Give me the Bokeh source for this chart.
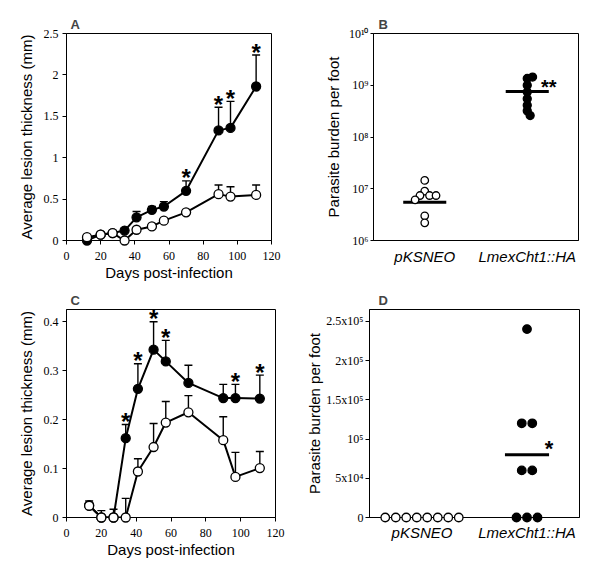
import math
from bokeh.plotting import figure
from bokeh.layouts import column, row
from bokeh.models import (ColumnDataSource, Whisker, TeeHead, FixedTicker,
                          CustomJSTickFormatter, Range1d)
from bokeh.core.properties import value
from bokeh.embed import file_html
from bokeh.resources import INLINE

NaN = float("nan")

# ---------------- data ----------------
# Panel A: lesion thickness, (mm)
days_A = [12, 20, 27, 34, 41, 50, 57, 70, 89, 96, 111]
cht_A = [0.00, 0.07, 0.09, 0.12, 0.28, 0.37, 0.41, 0.60, 1.33, 1.36, 1.86]
cht_A_top = [NaN, NaN, NaN, 0.15, 0.35, 0.41, 0.47, 0.72, 1.61, 1.68, 2.24]
neo_A = [0.04, 0.07, 0.09, 0.00, 0.13, 0.17, 0.24, 0.34, 0.56, 0.53, 0.55]
neo_A_top = [NaN, NaN, NaN, NaN, NaN, NaN, NaN, NaN, 0.67, 0.65, 0.67]
stars_A = [70, 89, 96, 111]

# Panel C
days_C = [13, 20, 27, 34, 41, 50, 57, 70, 90, 97, 111]
cht_C = [0.025, 0.0, 0.0, 0.162, 0.263, 0.343, 0.319, 0.275, 0.244, 0.244, 0.243]
cht_C_top = [NaN, NaN, NaN, 0.19, 0.314, 0.40, 0.362, 0.311, 0.272, 0.272, 0.291]
neo_C = [0.024, 0.0, 0.0, 0.0, 0.094, 0.144, 0.194, 0.215, 0.158, 0.083, 0.101]
neo_C_top = [0.034, 0.014, 0.017, 0.039, 0.12, 0.192, 0.237, 0.249, 0.206, 0.133, 0.135]
stars_C = [34, 41, 50, 57, 97, 111]

# Panel B: parasite burden (log)
groups = ["pKSNEO", "LmexCht1::HA"]
B_neo = [1.45e7, 9.0e6, 7.4e6, 7.4e6, 7.4e6, 6.1e6, 3.0e6, 2.2e6]
B_cht = [1.35e9, 1.44e9, 1.0e9, 7.4e8, 5.5e8, 4.1e8, 3.2e8, 2.6e8]
B_means = [5.5e6, 7.6e8]
B_sig = "**"

# Panel D: parasite burden (linear)
D_neo = [0, 0, 0, 0, 0, 0, 0, 0]
D_cht = [2.4e5, 1.2e5, 1.2e5, 6.0e4, 6.0e4, 0, 0, 0]
D_mean_cht = 8.0e4
D_sig = "*"

# tick labels
xt_days = [0, 20, 40, 60, 80, 100, 120]
xt_days_lab = ["0", "20", "40", "60", "80", "100", "120"]
yt_A = [0, 0.5, 1, 1.5, 2, 2.5]
yt_A_lab = ["0", "0.5", "1", "1.5", "2", "2.5"]
yt_C = [0, 0.1, 0.2, 0.3, 0.4]
yt_C_lab = ["0", "0.1", "0.2", "0.3", "0.4"]
yt_B = [1e6, 1e7, 1e8, 1e9, 1e10]
yt_B_lab = ["10\u2076", "10\u2077", "10\u2078", "10\u2079", "10\u00b9\u2070"]
yt_D = [0, 5e4, 1e5, 1.5e5, 2e5, 2.5e5]
yt_D_lab = ["0", "5x10\u2074", "10\u2075", "1.5x10\u2075", "2x10\u2075", "2.5x10\u2075"]

# ---------------- helpers ----------------
SANS = "Liberation Sans"
SERIF = "Liberation Serif"


def fmt(vals, labs):
    return CustomJSTickFormatter(args=dict(vals=list(vals), labs=list(labs)), code="""
        for (let i = 0; i < vals.length; i++) {
            if (Math.abs(vals[i] - tick) <= 1e-9 * Math.max(1, Math.abs(vals[i]))) return labs[i];
        }
        return "";
    """)


def make_fig(title, xr, yr, bl, br, bt, bb, ylog=False, title_off=4):
    p = figure(width=300, height=284, x_range=xr, y_range=yr,
               y_axis_type="log" if ylog else "linear",
               output_backend="svg", toolbar_location=None,
               min_border_left=bl, min_border_right=br,
               min_border_top=bt, min_border_bottom=bb)
    p.grid.visible = False
    p.outline_line_color = "black"
    p.outline_line_width = 1
    p.background_fill_color = "white"
    p.border_fill_color = "white"
    p.title.text = title
    p.title.text_font = SANS
    p.title.text_font_size = "13px"
    p.title.text_font_style = "bold"
    p.title.offset = title_off
    p.title.standoff = 3
    for ax in p.axis:
        ax.axis_line_color = "black"
        ax.major_tick_line_color = "black"
        ax.minor_tick_line_color = None
        ax.major_tick_in = 0
        ax.major_tick_out = 4
        ax.major_label_standoff = 4
        ax.major_label_text_font = SERIF
        ax.major_label_text_font_size = "12px"
        ax.major_label_text_color = "black"
        ax.axis_label_text_font = SANS
        ax.axis_label_text_font_size = "15px"
        ax.axis_label_text_font_style = "normal"
        ax.axis_label_text_color = "black"
        ax.axis_label_standoff = 6
    return p


def add_series(p, x, y, top, filled):
    src = ColumnDataSource(dict(x=x, y=y))
    ex = [a for a, t in zip(x, top) if not math.isnan(t)]
    ey = [b for b, t in zip(y, top) if not math.isnan(t)]
    et = [t for t in top if not math.isnan(t)]
    wsrc = ColumnDataSource(dict(base=ex, lower=ey, upper=et))
    p.add_layout(Whisker(base="base", lower="lower", upper="upper", source=wsrc,
                         dimension="height", line_color="black", line_width=1.4,
                         lower_head=None,
                         upper_head=TeeHead(size=8, line_color="black", line_width=1.4)))
    p.line("x", "y", source=src, line_color="black", line_width=2)
    p.scatter("x", "y", source=src, size=9, marker="circle",
              fill_color="black" if filled else "white",
              line_color="black", line_width=1.3, level="overlay")


def add_stars(p, days, star_days, top, px_per_unit, off_px=3, size="24px"):
    sx = [d for d in star_days]
    sy = [top[days.index(d)] + off_px / px_per_unit for d in star_days]
    p.text(x=sx, y=sy, text=["*"] * len(sx), text_font=value(SANS),
           text_font_size=size, text_font_style="bold", text_color="black",
           text_align="center", text_baseline="middle")


def swarm(ypx, d):
    placed, xs = [], []
    for y in ypx:
        cands = [0.0]
        for (px, py) in placed:
            dy = abs(y - py)
            if dy < d:
                dx = math.sqrt(d * d - dy * dy)
                cands += [px + dx, px - dx]
        cands.sort(key=lambda c: (abs(c), -c))
        for c in cands:
            if all((c - px) ** 2 + (y - py) ** 2 >= d * d - 1e-6 for px, py in placed):
                xs.append(c)
                placed.append((c, y))
                break
    return xs


def tie_offsets(vals, spacing):
    out = [0.0] * len(vals)
    uniq = []
    for v in vals:
        if v not in uniq:
            uniq.append(v)
    for u in uniq:
        idx = [i for i, v in enumerate(vals) if v == u]
        n = len(idx)
        for k, i in enumerate(idx):
            out[i] = (k - (n - 1) / 2) * spacing
    return out


def style_days_axis(p):
    p.xaxis.ticker = FixedTicker(ticks=xt_days)
    p.xaxis.formatter = fmt(xt_days, xt_days_lab)
    p.xaxis.major_label_standoff = 7
    p.xaxis.axis_label_standoff = 1
    p.xaxis.axis_label = "Days post-infection"
    p.yaxis.axis_label = "Average lesion thickness (mm)"


def style_group_axis(p, standoff):
    p.xaxis.ticker = FixedTicker(ticks=[1, 2])
    p.xaxis.formatter = fmt([1, 2], groups)
    p.xaxis.major_tick_out = 0
    p.xaxis.major_label_standoff = standoff
    p.xaxis.major_label_text_font = SANS
    p.xaxis.major_label_text_font_size = "15px"
    p.xaxis.major_label_text_font_style = "italic"
    p.yaxis.axis_label = "Parasite burden per foot"


# ---------------- Panel A ----------------
pA = make_fig("A", Range1d(0, 120), Range1d(0, 2.5), 66, 29, 33, 43)
style_days_axis(pA)
pA.yaxis.ticker = FixedTicker(ticks=yt_A)
pA.yaxis.formatter = fmt(yt_A, yt_A_lab)
add_series(pA, days_A, cht_A, cht_A_top, True)
add_series(pA, days_A, neo_A, neo_A_top, False)
add_stars(pA, days_A, stars_A, cht_A_top, 208 / 2.5)

# ---------------- Panel B ----------------
pB = make_fig("B", Range1d(0.5, 2.5), Range1d(1e6, 1e10), 73, 22, 33, 44, ylog=True, title_off=5)
style_group_axis(pB, 7)
pB.yaxis.ticker = FixedTicker(ticks=yt_B)
pB.yaxis.formatter = fmt(yt_B, yt_B_lab)
pB.yaxis.major_tick_out = 3
pB.yaxis.major_label_standoff = 2
pB.yaxis.axis_label_standoff = 4
B_ppd = 207 / 4.0       # px per decade
B_ppx = 205 / 2.0       # px per x unit
for gi, (vals, filled, dd) in enumerate([(B_neo, False, 6.5), (B_cht, True, 5.5)]):
    offs = swarm([math.log10(v) * B_ppd for v in vals], dd)
    xs = [gi + 1 + o / B_ppx for o in offs]
    pB.scatter(xs, vals, size=8 if filled else 7.5, marker="circle",
               fill_color="black" if filled else "white", line_color="black",
               line_width=1.3, level="overlay")
half = 0.21
pB.segment(x0=[g + 1 - half for g in range(2)], x1=[g + 1 + half for g in range(2)],
           y0=B_means, y1=B_means, line_color="black", line_width=3)
pB.text(x=[2 + half], y=[B_means[1] * 10 ** (4 / B_ppd)], text=[B_sig],
        text_font=value(SANS), text_font_size="20px", text_font_style="bold",
        text_align="center", text_baseline="middle", text_color="black")

# ---------------- Panel C ----------------
pC = make_fig("C", Range1d(0, 120), Range1d(0, 0.425), 66, 25, 25, 49)
style_days_axis(pC)
pC.yaxis.ticker = FixedTicker(ticks=yt_C)
pC.yaxis.formatter = fmt(yt_C, yt_C_lab)
add_series(pC, days_C, cht_C, cht_C_top, True)
add_series(pC, days_C, neo_C, neo_C_top, False)
add_stars(pC, days_C, stars_C, cht_C_top, 210 / 0.425)

# ---------------- Panel D ----------------
pD = make_fig("D", Range1d(0.5, 2.5), Range1d(0, 2.65e5), 69, 21, 24, 51, title_off=9)
style_group_axis(pD, 6)
pD.yaxis.ticker = FixedTicker(ticks=yt_D)
pD.yaxis.formatter = fmt(yt_D, yt_D_lab)
pD.yaxis.major_label_standoff = 2
pD.yaxis.axis_label_standoff = 0
D_ppx = 210 / 2.0
for gi, (vals, filled) in enumerate([(D_neo, False), (D_cht, True)]):
    offs = tie_offsets(vals, 10.5)
    xs = [gi + 1 + o / D_ppx for o in offs]
    pD.scatter(xs, vals, size=8.5, marker="circle",
               fill_color="black" if filled else "white", line_color="black",
               line_width=1.3, level="overlay")
pD.segment(x0=[2 - half], x1=[2 + half], y0=[D_mean_cht], y1=[D_mean_cht],
           line_color="black", line_width=3)
pD.text(x=[2 + half], y=[D_mean_cht + 6 * 2.65e5 / 209], text=[D_sig],
        text_font=value(SANS), text_font_size="22px", text_font_style="bold",
        text_align="center", text_baseline="middle", text_color="black")

layout = column(row(pA, pB), row(pC, pD))
open("out.html", "w").write(file_html(layout, INLINE))
